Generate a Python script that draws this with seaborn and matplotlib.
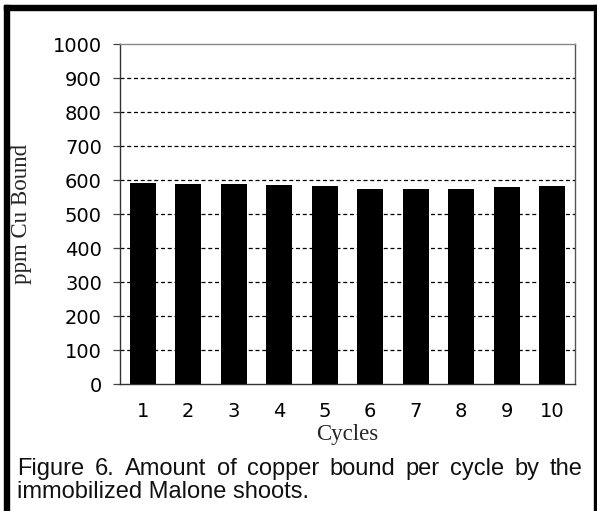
import numpy as np
import pandas as pd
import matplotlib
matplotlib.use('Agg')
import matplotlib.pyplot as plt
import matplotlib.patches as mpatches
from matplotlib.ticker import FixedLocator
import seaborn as sns

# datos
ciclos = ['1', '2', '3', '4', '5', '6', '7', '8', '9', '10']
cu_bound = [591, 588, 588, 584, 583, 573, 573, 575, 580, 583]
y_ticks = [0, 100, 200, 300, 400, 500, 600, 700, 800, 900, 1000]
caption_1 = 'Figure 6. Amount of copper bound per cycle by the'
caption_2 = 'immobilized Malone shoots.'

sns.set_style('white')
plt.rcParams['font.family'] = 'DejaVu Sans'

W, H = 597, 511
fig = plt.figure(figsize=(W / 100, H / 100), dpi=100, facecolor='white')
ax = fig.add_axes([120 / W, 1 - 384 / H, 455 / W, 340 / H])

df = pd.DataFrame({'ciclo': ciclos, 'cu': cu_bound})
sns.barplot(data=df, x='ciclo', y='cu', color='black', saturation=1,
            width=0.57, linewidth=0, ax=ax, zorder=3)

ax.set_xlim(-0.5, len(ciclos) - 0.5)
ax.set_ylim(0, 1000)
ax.set_yticks(y_ticks)
ax.set_yticklabels([str(v) for v in y_ticks], fontsize=14)
ax.set_xticks(range(len(ciclos)))
ax.set_xticklabels(ciclos, fontsize=14)
ax.xaxis.set_minor_locator(FixedLocator(np.arange(-0.5, len(ciclos), 1)))
ax.tick_params(axis='x', which='major', length=0, pad=13, colors='black')
ax.tick_params(axis='x', which='minor', length=9, direction='inout',
               width=0.9, color='#444444')
ax.tick_params(axis='y', length=5, direction='out', width=0.9, pad=8,
               color='#444444', labelcolor='black')
ax.tick_params(left=True, bottom=True)

# grid punteado
ax.yaxis.grid(True, linestyle=(0, (3.2, 2.2)), color='black', linewidth=0.9)
ax.xaxis.grid(False)
ax.set_axisbelow(True)
glines = ax.get_ygridlines()
glines[0].set_visible(False)
glines[-1].set_visible(False)

for side in ['left', 'bottom']:
    ax.spines[side].set_color('#333333')
    ax.spines[side].set_linewidth(1.0)
ax.spines['top'].set_color('#888888')
ax.spines['top'].set_linewidth(1.0)
ax.spines['right'].set_color('#555555')
ax.spines['right'].set_linewidth(1.0)

ax.set_xlabel('Cycles', family='Liberation Serif', fontsize=16.5, labelpad=2)
ax.set_ylabel('ppm Cu Bound', family='Liberation Serif', fontsize=16.5)
ax.yaxis.set_label_coords((32 - 120) / 455, 0.5)

# marco
fig.add_artist(mpatches.Rectangle((4 / W, 0), 5 / W, 1 - 5 / H,
                                  transform=fig.transFigure, color='black'))
fig.add_artist(mpatches.Rectangle((4 / W, 1 - 10 / H), 1 - 4 / W, 5 / H,
                                  transform=fig.transFigure, color='black'))
fig.add_artist(mpatches.Rectangle((594 / W, 0), 2 / W, 1 - 5 / H,
                                  transform=fig.transFigure, color='black'))

# pie de figura (primera linea justificada)
cap_kw = dict(family='Liberation Sans', fontsize=17, va='baseline',
              ha='left', color='#111111')
x0, x1 = 17, 583
words = caption_1.split(' ')
renderer = fig.canvas.get_renderer()
txts = [fig.text(0, 0, w, **cap_kw) for w in words]
widths = [t.get_window_extent(renderer).width for t in txts]
gap = (x1 - x0 - sum(widths)) / (len(words) - 1)
xpos = x0
for t, w in zip(txts, widths):
    t.set_position((xpos / W, 1 - 475 / H))
    xpos += w + gap
fig.text(x0 / W, 1 - 498 / H, caption_2, **cap_kw)

fig.savefig('out.png', dpi=100, facecolor='white')
